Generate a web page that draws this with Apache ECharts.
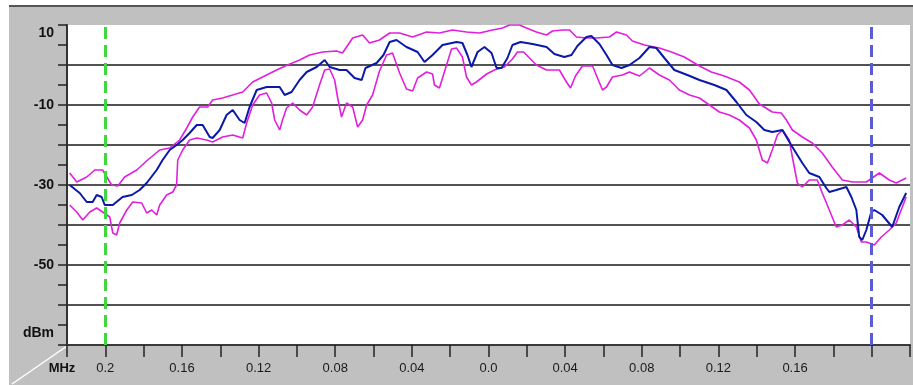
<!DOCTYPE html>
<html>
<head>
<meta charset="utf-8">
<script src="https://cdn.jsdelivr.net/npm/echarts@6/dist/echarts.min.js"></script>
<style>
  html, body { margin: 0; padding: 0; background: #ffffff; }
  .panel {
    position: absolute; left: 9px; top: 5px; width: 904px; height: 380px;
    background: #c0c0c0; border-top: 2px solid #555555;
  }
  #chart { position: absolute; left: 0; top: 0; width: 913px; height: 385px; }
</style>
</head>
<body>
<div class="panel"></div>
<div id="chart"></div>
<script>
// spectrum traces, [offset MHz, level dBm]
const avgTrace = [
  [-0.2186, -30], [-0.2134, -32], [-0.2097, -34.25], [-0.2066, -34.25], [-0.2045, -32.5],
  [-0.2019, -33], [-0.2003, -35], [-0.1961, -35], [-0.1910, -33], [-0.1862, -32.5],
  [-0.1821, -31.25], [-0.1784, -29.5], [-0.1732, -26.25], [-0.1701, -23.75], [-0.1664, -21.25],
  [-0.1628, -20], [-0.1596, -18.75], [-0.1560, -17], [-0.1523, -15], [-0.1492, -15],
  [-0.1455, -18], [-0.1440, -18.25], [-0.1403, -16.25], [-0.1367, -12.5], [-0.1335, -11.25],
  [-0.1299, -13.75], [-0.1273, -14.5], [-0.1247, -10.5], [-0.1210, -6.25], [-0.1158, -5.5],
  [-0.1090, -5.5], [-0.1064, -7.5], [-0.1028, -6.75], [-0.0986, -3.75], [-0.0949, -1.75],
  [-0.0897, -0.5], [-0.0855, 1.25], [-0.0829, -0.5], [-0.0777, -1.25], [-0.0741, -1.25],
  [-0.0699, -3.25], [-0.0662, -3.75], [-0.0642, -0.75], [-0.0584, 0.5], [-0.0548, 2.5],
  [-0.0516, 5.75], [-0.0480, 6.25], [-0.0428, 4.5], [-0.0370, 3.25], [-0.0334, 0.75],
  [-0.0292, 2.5], [-0.0240, 5], [-0.0167, 5.75], [-0.0136, 5.5], [-0.0110, 2.5],
  [-0.0089, -0.5], [-0.0057, 3.25], [-0.0021, 4.5], [0.0016, 3], [0.0042, -0.75],
  [0.0068, -0.75], [0.0099, 1.75], [0.0125, 5], [0.0167, 5.75], [0.0230, 5.25],
  [0.0303, 4.5], [0.0344, 2.75], [0.0396, 2], [0.0433, 2.5], [0.0464, 4.75],
  [0.0511, 7], [0.0537, 7.25], [0.0579, 5.25], [0.0616, 2.5], [0.0647, 0],
  [0.0694, -0.75], [0.0736, 0], [0.0788, 1.75], [0.0840, 4.5], [0.0876, 4.25],
  [0.0918, 1.75], [0.0970, -1.25], [0.1038, -2.5], [0.1101, -3.75], [0.1179, -5],
  [0.1242, -6.25], [0.1294, -9.25], [0.1346, -12.5], [0.1398, -14.25], [0.1440, -16.25],
  [0.1481, -16.75], [0.1534, -16.25], [0.1586, -20.5], [0.1638, -24.5], [0.1674, -27],
  [0.1727, -28], [0.1763, -30.75], [0.1779, -31.75], [0.1815, -31.25], [0.1868, -30.5],
  [0.1894, -33], [0.1920, -36.25], [0.1935, -43], [0.1951, -43.75], [0.1972, -41.25],
  [0.1998, -36.75], [0.2014, -36.25], [0.2055, -37.5], [0.2107, -40.5], [0.2144, -35.5],
  [0.2180, -32]
]

const maxTrace = [
  [-0.2186, -27], [-0.2149, -29.25], [-0.2097, -28], [-0.2055, -26.25], [-0.2014, -26.25],
  [-0.1967, -30], [-0.1935, -30.25], [-0.1899, -28], [-0.1836, -26.25], [-0.1779, -23.75],
  [-0.1716, -21.25], [-0.1664, -20.75], [-0.1612, -18.75], [-0.1575, -15.75], [-0.1544, -13],
  [-0.1508, -10.5], [-0.1466, -10.5], [-0.1440, -8.75], [-0.1388, -8.25], [-0.1335, -7.5],
  [-0.1283, -6.75], [-0.1231, -4.25], [-0.1179, -3], [-0.1106, -1.25], [-0.1049, 0],
  [-0.0986, 1.25], [-0.0934, 2.5], [-0.0866, 3.25], [-0.0793, 3.5], [-0.0762, 3],
  [-0.0709, 6.75], [-0.0657, 7.5], [-0.0621, 5.5], [-0.0569, 6.25], [-0.0516, 8],
  [-0.0464, 8], [-0.0396, 7], [-0.0323, 8.25], [-0.0256, 8], [-0.0188, 8.75],
  [-0.0115, 8.25], [-0.0047, 8], [0.0021, 8.75], [0.0073, 9.25], [0.0110, 10],
  [0.0162, 10], [0.0198, 9.25], [0.0250, 8.25], [0.0303, 7.5], [0.0334, 8.5],
  [0.0386, 8.75], [0.0423, 8.75], [0.0459, 7], [0.0511, 6.75], [0.0563, 6.75],
  [0.0631, 7], [0.0668, 8.25], [0.0720, 7.5], [0.0751, 6], [0.0814, 5],
  [0.0892, 4.25], [0.0955, 3.25], [0.1022, 2], [0.1101, -0.25], [0.1163, -1.75],
  [0.1231, -2.75], [0.1309, -4.25], [0.1362, -6.25], [0.1414, -9.75], [0.1481, -11.75],
  [0.1528, -12], [0.1555, -13.75], [0.1586, -16.25], [0.1638, -18], [0.1690, -19.5],
  [0.1742, -22], [0.1794, -25.5], [0.1847, -28.75], [0.1899, -29.25], [0.1972, -29.25],
  [0.2040, -27], [0.2092, -28.75], [0.2128, -29.5], [0.2180, -28.25]
]

const minTrace = [
  [-0.2186, -35], [-0.2149, -36.75], [-0.2118, -38.75], [-0.2081, -36.75], [-0.2045, -35.75],
  [-0.2014, -36.75], [-0.1977, -38], [-0.1961, -42], [-0.1941, -42.5], [-0.1925, -39.5],
  [-0.1888, -36.25], [-0.1857, -34.25], [-0.1810, -34.5], [-0.1784, -37], [-0.1758, -36.25],
  [-0.1732, -37.5], [-0.1716, -35], [-0.1680, -32.5], [-0.1648, -31.75], [-0.1628, -30],
  [-0.1622, -23.75], [-0.1596, -21.25], [-0.1560, -18.75], [-0.1523, -18.25], [-0.1471, -18.75],
  [-0.1440, -19.25], [-0.1388, -18], [-0.1335, -17.5], [-0.1283, -18.25], [-0.1262, -14.5],
  [-0.1231, -10], [-0.1195, -7.5], [-0.1158, -7], [-0.1132, -9.5], [-0.1116, -13.75],
  [-0.1090, -16.25], [-0.1075, -13.75], [-0.1054, -10.75], [-0.1022, -9.5], [-0.0986, -11.25],
  [-0.0949, -12.5], [-0.0918, -10.5], [-0.0882, -5], [-0.0855, -1.25], [-0.0829, -1],
  [-0.0803, -3.75], [-0.0788, -8], [-0.0767, -13], [-0.0741, -9.5], [-0.0709, -10.5],
  [-0.0683, -15.5], [-0.0657, -13.75], [-0.0636, -10], [-0.0605, -7.5], [-0.0569, -1.5],
  [-0.0532, 2.5], [-0.0501, 3], [-0.0464, -2], [-0.0428, -6], [-0.0396, -6.5],
  [-0.0370, -3.25], [-0.0323, -1.75], [-0.0292, -2.25], [-0.0282, -5], [-0.0256, -5.75],
  [-0.0219, 0], [-0.0193, 4], [-0.0167, 4.25], [-0.0136, 2], [-0.0115, -3],
  [-0.0089, -5], [-0.0063, -4.25], [-0.0010, -2.25], [0.0031, -1.25], [0.0083, -0.5],
  [0.0125, 1.5], [0.0151, 3.25], [0.0183, 3.25], [0.0214, 1.75], [0.0250, 0],
  [0.0303, -1.25], [0.0370, -1.25], [0.0407, -4.25], [0.0428, -5.75], [0.0454, -2.75],
  [0.0490, -0.25], [0.0543, -0.25], [0.0569, -3.25], [0.0595, -6.25], [0.0616, -5.5],
  [0.0647, -3], [0.0699, -2.5], [0.0736, -1.75], [0.0788, -2.75], [0.0840, -0.75],
  [0.0892, -2.5], [0.0944, -3.75], [0.0996, -6.25], [0.1049, -7.5], [0.1101, -8.25],
  [0.1153, -10], [0.1205, -11.75], [0.1257, -12.5], [0.1309, -13.75], [0.1362, -15.75],
  [0.1398, -18.75], [0.1429, -23.75], [0.1456, -24.5], [0.1481, -21.25], [0.1508, -17.5],
  [0.1534, -16.25], [0.1570, -18.75], [0.1586, -23], [0.1612, -29.5], [0.1638, -30.5],
  [0.1674, -28.75], [0.1716, -28.75], [0.1742, -32], [0.1779, -36.25], [0.1815, -40.5],
  [0.1847, -40], [0.1883, -38.75], [0.1920, -40.5], [0.1946, -44.25], [0.1972, -44.25],
  [0.2014, -45], [0.2050, -43], [0.2092, -41.25], [0.2128, -39.5], [0.2160, -35.5],
  [0.2180, -33]
]

// marker lines (MHz)
const markerLeft = -0.2
const markerRight = 0.2

const freqMin = -0.22
const freqMax = 0.22
const freqStep = 0.02
const levelMin = -70
const levelMax = 10
const levelStep = 10

const chart = echarts.init(document.getElementById('chart'))

function freqLabel(v) {
  const k = Math.round(v / freqStep)
  if (k === Math.round(freqMin / freqStep)) return '{unit|MHz}'
  if (k % 2 !== 0) return ''
  if (k === Math.round(markerRight / freqStep)) return ''
  let s = Math.abs(k * freqStep).toFixed(2)
  if (s.endsWith('0')) s = s.slice(0, -1)
  return s
}

function levelLabel(v) {
  if (v === levelMin) return '{bot|dBm}'
  if (v === levelMax) return '{top|' + v + '}'
  if ((v - levelMax) % 20 === 0) return String(v)
  return ''
}

const option = {
  animation: false,
  grid: {
    left: 67, right: 2, top: 25, bottom: 40,
    show: true, backgroundColor: '#ffffff', borderWidth: 0
  },
  graphic: [{
    type: 'line',
    shape: { x1: 67, y1: 346, x2: 12, y2: 384 },
    style: { stroke: '#ffffff', lineWidth: 1.5 },
    silent: true
  }],
  xAxis: {
    type: 'value',
    min: freqMin,
    max: freqMax,
    interval: freqStep,
    axisLine: { show: true, onZero: false, lineStyle: { color: '#3a3a3a', width: 2 } },
    axisTick: { show: true, length: 12, lineStyle: { color: '#222', width: 1.5 } },
    splitLine: { show: false },
    axisLabel: {
      formatter: freqLabel,
      margin: 17,
      color: '#1a1a1a',
      fontFamily: 'Liberation Sans, Arial, sans-serif',
      fontSize: 13,
      rich: {
        unit: { fontWeight: 'bold', fontSize: 13, color: '#111', padding: [0, 10, 0, 0], fontFamily: 'Liberation Sans, Arial, sans-serif' }
      }
    }
  },
  yAxis: {
    type: 'value',
    min: levelMin,
    max: levelMax,
    interval: levelStep,
    axisLine: { show: true, onZero: false, lineStyle: { color: '#333', width: 2 } },
    axisTick: { show: true, length: 9, lineStyle: { color: '#222', width: 1.5 } },
    minorTick: { show: true, splitNumber: 2, length: 9, lineStyle: { color: '#222', width: 1.5 } },
    splitLine: {
      show: true, showMinLine: false, showMaxLine: false,
      lineStyle: { color: '#1a1a1a', width: 1.5 }
    },
    axisLabel: {
      formatter: levelLabel,
      margin: 13,
      color: '#111',
      fontWeight: 'bold',
      fontSize: 14,
      fontFamily: 'Liberation Sans, Arial, sans-serif',
      rich: {
        top: { fontWeight: 'bold', fontSize: 14, color: '#111', padding: [16, 0, 0, 0], fontFamily: 'Liberation Sans, Arial, sans-serif' },
        bot: { fontWeight: 'bold', fontSize: 14, color: '#111', padding: [0, 0, 24, 0], fontFamily: 'Liberation Sans, Arial, sans-serif' }
      }
    }
  },
  series: [
    {
      name: 'max',
      type: 'line',
      data: maxTrace,
      symbol: 'none',
      lineStyle: { color: '#e020dc', width: 1.6 },
      z: 3
    },
    {
      name: 'min',
      type: 'line',
      data: minTrace,
      symbol: 'none',
      lineStyle: { color: '#e020dc', width: 1.6 },
      z: 3
    },
    {
      name: 'avg',
      type: 'line',
      data: avgTrace,
      symbol: 'none',
      lineStyle: { color: '#0a1aa6', width: 2 },
      z: 4,
      markLine: {
        silent: true,
        symbol: 'none',
        label: { show: false },
        data: [
          { xAxis: markerLeft, lineStyle: { color: '#3fd83f', width: 3, type: [12, 6] } },
          { xAxis: markerRight, lineStyle: { color: '#5b5bd8', width: 3, type: [12, 6] } }
        ]
      }
    }
  ]
}

chart.setOption(option)
</script>
</body>
</html>
